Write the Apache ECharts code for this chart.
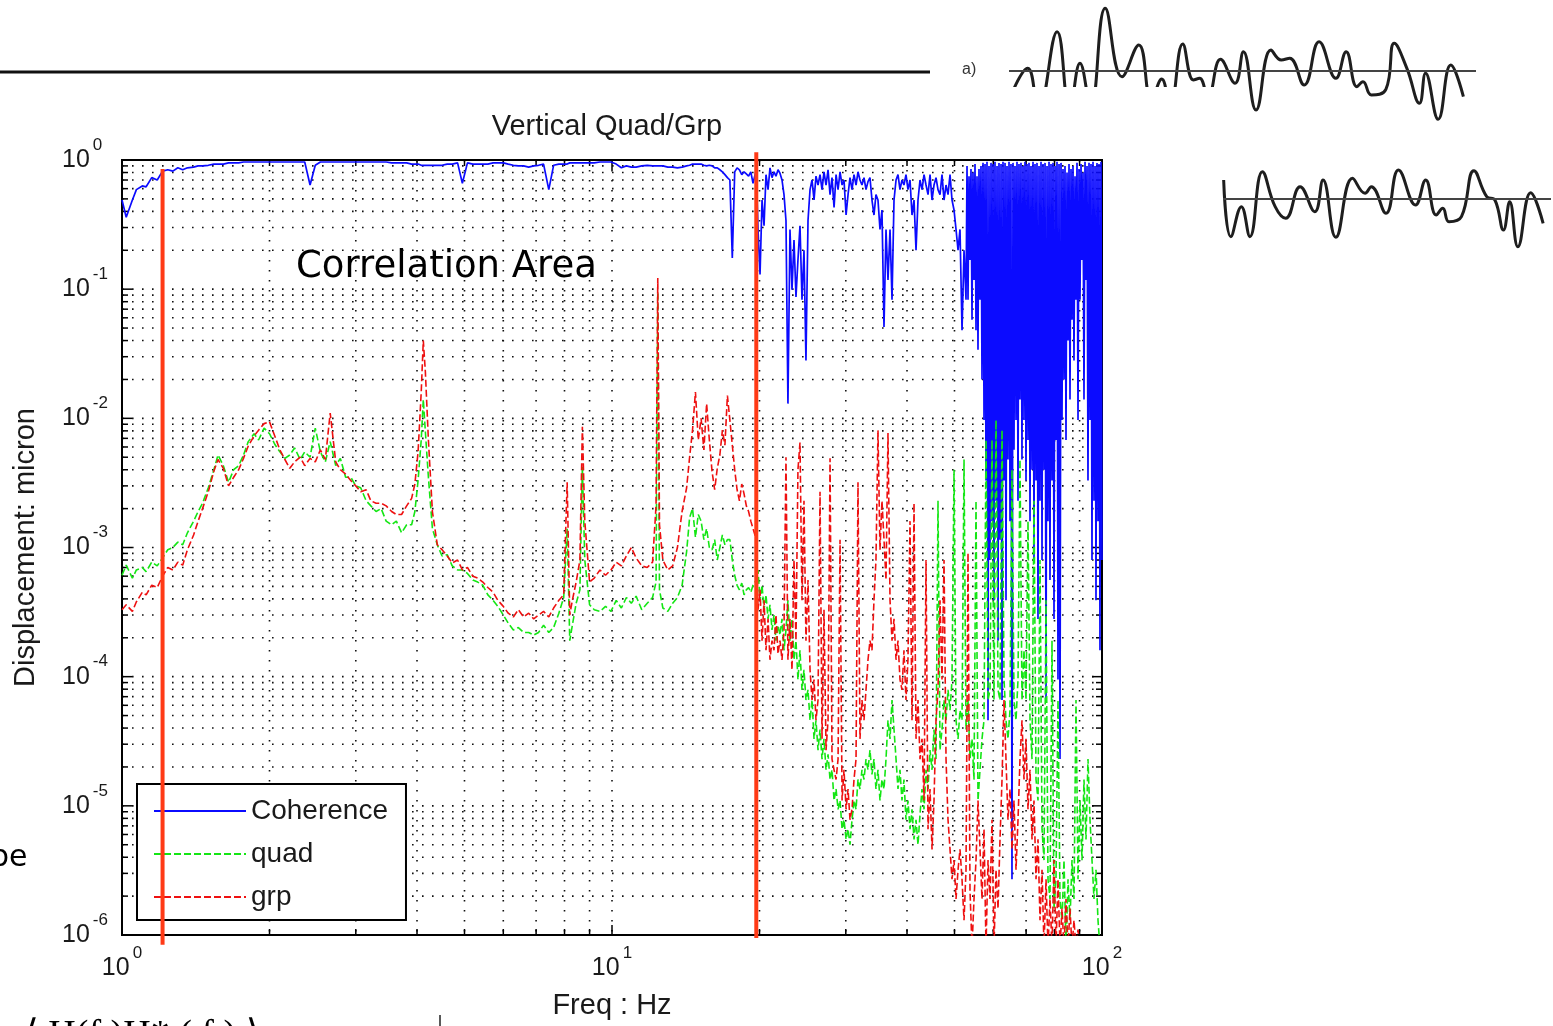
<!DOCTYPE html>
<html>
<head>
<meta charset="utf-8">
<title>Vertical Quad/Grp</title>
<script src="https://cdn.jsdelivr.net/npm/echarts@6/dist/echarts.min.js"></script>
<style>
  html, body { margin: 0; padding: 0; background: #ffffff; }
  #chart { width: 1553px; height: 1026px; }
</style>
</head>
<body>
<div id="chart"></div>
<script>
// ---- Spectrum data: frequency in Hz, displacement in micron, coherence (0..1) ----

// Band below 20 Hz
const freqLow = [
  1.00,1.02,1.05,1.07,1.10,1.12,1.15,1.18,1.21,1.24,
  1.27,1.30,1.33,1.36,1.40,1.43,1.46,1.50,1.54,1.57,
  1.61,1.65,1.69,1.73,1.77,1.81,1.86,1.90,1.95,2.00,
  2.05,2.10,2.15,2.20,2.25,2.31,2.36,2.42,2.48,2.54,
  2.60,2.66,2.73,2.79,2.86,2.93,3.00,3.07,3.15,3.22,
  3.30,3.38,3.46,3.55,3.63,3.72,3.81,3.90,3.96,4.02,
  4.08,4.12,4.16,4.22,4.30,4.40,4.50,4.61,4.72,4.84,
  4.95,5.07,5.20,5.32,5.45,5.58,5.72,5.85,6.00,6.14,
  6.29,6.44,6.60,6.76,6.92,7.08,7.25,7.43,7.60,7.79,
  7.97,8.10,8.20,8.30,8.45,8.60,8.70,8.80,9.00,9.20,
  9.45,9.70,9.95,10.2,10.45,10.7,10.95,11.2,11.5,11.8,
  12.1,12.3,12.4,12.5,12.7,13.0,13.3,13.6,13.9,14.2,
  14.4,14.6,14.8,15.0,15.2,15.4,15.6,15.8,16.0,16.2,
  16.4,16.6,16.8,17.0,17.2,17.4,17.6,17.8,18.0,18.2,
  18.4,18.6,18.8,19.0,19.2,19.4,19.7
];
const cohLow = [
  0.49,0.36,0.49,0.59,0.63,0.62,0.73,0.70,0.82,0.84,
  0.82,0.87,0.84,0.87,0.88,0.90,0.90,0.91,0.93,0.93,
  0.93,0.95,0.95,0.95,0.965,0.965,0.965,0.965,0.965,0.965,
  0.965,0.965,0.965,0.965,0.965,0.965,0.965,0.64,0.91,0.965,
  0.965,0.965,0.965,0.965,0.965,0.965,0.965,0.965,0.965,0.965,
  0.965,0.965,0.965,0.95,0.95,0.95,0.95,0.93,0.93,0.93,
  0.91,0.91,0.91,0.91,0.91,0.91,0.91,0.93,0.93,0.95,
  0.66,0.95,0.93,0.93,0.93,0.93,0.95,0.95,0.95,0.93,
  0.91,0.90,0.90,0.88,0.90,0.91,0.93,0.59,0.91,0.93,
  0.93,0.93,0.95,0.95,0.95,0.95,0.95,0.95,0.95,0.95,
  0.965,0.965,0.965,0.93,0.87,0.90,0.88,0.88,0.90,0.91,
  0.90,0.90,0.90,0.90,0.90,0.88,0.88,0.87,0.88,0.90,
  0.91,0.93,0.93,0.93,0.93,0.91,0.90,0.91,0.90,0.87,
  0.87,0.84,0.81,0.77,0.73,0.70,0.174,0.81,0.87,0.84,
  0.77,0.81,0.78,0.75,0.81,0.66,0.84
];
const quadLow = [
  6.1e-4,7.3e-4,5.8e-4,6.7e-4,7.0e-4,6.5e-4,7.7e-4,7.2e-4,8.3e-4,9.6e-4,
  1.0e-3,1.1e-3,1.05e-3,1.3e-3,1.6e-3,1.9e-3,2.2e-3,2.9e-3,4.0e-3,5.2e-3,
  4.3e-3,3.2e-3,4.0e-3,4.3e-3,5.2e-3,6.6e-3,7.6e-3,6.8e-3,8.4e-3,7.6e-3,
  6.3e-3,5.5e-3,4.9e-3,5.2e-3,5.9e-3,4.8e-3,5.5e-3,5.0e-3,8.4e-3,5.5e-3,
  4.6e-3,6.6e-3,4.3e-3,4.9e-3,3.5e-3,3.5e-3,3.0e-3,2.9e-3,2.3e-3,2.1e-3,
  1.9e-3,2.0e-3,1.6e-3,1.5e-3,1.6e-3,1.3e-3,1.5e-3,1.5e-3,1.9e-3,3.3e-3,
  6.8e-3,1.4e-2,7.9e-3,3.5e-3,1.4e-3,1.05e-3,8.6e-4,8.8e-4,7.2e-4,6.7e-4,
  6.7e-4,6.3e-4,5.6e-4,5.4e-4,5.1e-4,4.3e-4,3.9e-4,3.5e-4,3.0e-4,2.6e-4,
  2.3e-4,2.4e-4,2.2e-4,2.2e-4,2.1e-4,2.2e-4,2.5e-4,2.2e-4,2.4e-4,3.1e-4,
  4.1e-4,1.4e-3,1.9e-4,2.5e-4,3.7e-4,4.7e-4,4.2e-3,8.0e-4,3.6e-4,3.3e-4,
  3.2e-4,3.5e-4,3.2e-4,3.9e-4,3.4e-4,4.1e-4,3.7e-4,4.2e-4,3.3e-4,3.7e-4,
  4.1e-4,5.4e-4,9.5e-2,4.7e-4,3.4e-4,3.2e-4,3.7e-4,4.1e-4,5.1e-4,9.3e-4,
  1.7e-3,2.0e-3,1.2e-3,1.8e-3,1.6e-3,1.15e-3,1.4e-3,1.0e-3,9.6e-4,1.15e-3,
  8.0e-4,1.0e-3,1.25e-3,1.05e-3,1.15e-3,1.15e-3,8.0e-4,6.1e-4,5.1e-4,4.7e-4,
  5.3e-4,4.3e-4,4.7e-4,4.9e-4,4.5e-4,5.1e-4,5.6e-4
];
const grpLow = [
  3.3e-4,3.6e-4,3.2e-4,3.8e-4,4.5e-4,4.3e-4,5.1e-4,4.9e-4,6.0e-4,7.0e-4,
  6.7e-4,7.7e-4,7.3e-4,9.6e-4,1.25e-3,1.6e-3,2.0e-3,2.7e-3,3.9e-3,4.8e-3,
  4.1e-3,3.0e-3,3.5e-3,4.0e-3,4.9e-3,6.1e-3,7.3e-3,8.1e-3,9.1e-3,9.4e-3,
  7.3e-3,5.7e-3,4.8e-3,4.1e-3,4.6e-3,5.0e-3,4.3e-3,4.9e-3,4.6e-3,5.7e-3,
  4.8e-3,1.1e-2,4.6e-3,4.0e-3,3.7e-3,3.3e-3,3.0e-3,2.7e-3,2.8e-3,2.3e-3,
  2.2e-3,2.2e-3,2.1e-3,1.9e-3,1.8e-3,1.8e-3,2.1e-3,2.4e-3,3.1e-3,5.5e-3,
  1.6e-2,4.0e-2,2.3e-2,6.8e-3,1.9e-3,1.05e-3,9.6e-4,8.6e-4,7.6e-4,8.0e-4,
  6.7e-4,7.0e-4,6.0e-4,5.8e-4,5.4e-4,4.9e-4,4.5e-4,3.9e-4,3.5e-4,3.1e-4,
  2.9e-4,3.3e-4,2.9e-4,3.1e-4,2.8e-4,3.0e-4,3.2e-4,2.9e-4,3.4e-4,3.9e-4,
  4.3e-4,3.2e-3,3.0e-4,3.9e-4,5.4e-4,8.0e-4,8.6e-3,1.6e-3,5.4e-4,5.8e-4,
  6.7e-4,6.1e-4,6.7e-4,7.7e-4,7.2e-4,8.6e-4,1.0e-3,8.3e-4,7.2e-4,7.0e-4,
  7.7e-4,2.1e-3,1.22e-1,1.5e-3,8.0e-4,6.7e-4,7.2e-4,1.0e-3,1.9e-3,2.9e-3,
  5.0e-3,8.1e-3,1.6e-2,6.8e-3,1.0e-2,5.7e-3,1.3e-2,6.8e-3,3.9e-3,2.8e-3,
  4.1e-3,5.2e-3,8.1e-3,6.2e-3,1.5e-2,9.7e-3,6.2e-3,4.0e-3,2.8e-3,2.3e-3,
  3.1e-3,2.6e-3,2.1e-3,1.9e-3,1.6e-3,1.4e-3,1.15e-3
];

// Band from 20 Hz to 100 Hz (shared by quad and grp)
const freqHigh = [
  19.86,20.05,20.24,20.43,20.62,20.82,21.01,21.21,21.41,21.61,
  21.82,22.02,22.23,22.44,22.65,22.86,23.08,23.30,23.52,23.74,
  23.96,24.19,24.42,24.65,24.88,25.12,25.36,25.60,25.84,26.08,
  26.33,26.58,26.83,27.08,27.34,27.60,27.86,28.12,28.39,28.66,
  28.93,29.20,29.48,29.75,30.04,30.32,30.60,30.89,31.18,31.48,
  31.77,32.07,32.37,32.68,32.99,33.30,33.61,33.93,34.25,34.57,
  34.90,35.23,35.56,35.90,36.24,36.58,36.93,37.28,37.63,37.99,
  38.34,38.70,39.07,39.43,39.81,40.18,40.57,40.95,41.34,41.73,
  42.12,42.52,42.92,43.33,43.74,44.15,44.57,44.99,45.41,45.84,
  46.27,46.71,47.15,47.60,48.05,48.50,48.96,49.42,49.89,50.36,
  50.84,51.31,51.80,52.29,52.78,53.28,53.78,54.29,54.80,55.32,
  55.84,56.37,56.90,57.44,57.98,58.53,59.08,59.64,60.20,60.77,
  61.35,61.92,62.51,63.10,63.69,64.29,64.90,65.51,66.13,66.76,
  67.39,68.02,68.66,69.31,69.97,70.63,71.30,71.97,72.65,73.34,
  74.03,74.73,75.44,76.15,76.87,77.59,78.32,79.06,79.81,80.56,
  81.32,82.09,82.87,83.65,84.44,85.24,86.04,86.85,87.67,88.50,
  89.34,90.18,91.03,91.89,92.76,93.63,94.52,95.41,96.31,97.22,
  98.14,99.06,100
];
const quadHigh = [
  6.7e-4,3.9e-4,5.1e-4,3.3e-4,4.3e-4,2.8e-4,3.6e-4,2.3e-4,3.0e-4,1.9e-4,
  2.5e-4,2.1e-4,2.8e-4,1.6e-4,2.3e-4,3.9e-4,1.9e-4,2.8e-4,1.35e-4,1.9e-4,
  9.5e-5,1.6e-4,7.9e-5,1.13e-4,6.6e-5,7.9e-5,4.6e-5,6.6e-5,3.3e-5,4.6e-5,
  2.7e-5,3.9e-5,2.3e-5,3.3e-5,1.9e-5,2.5e-5,1.6e-5,1.9e-5,1.1e-5,1.35e-5,
  9.4e-6,1.1e-5,6.6e-6,7.8e-6,5.5e-6,6.6e-6,5.0e-6,7.8e-6,1.1e-5,9.4e-6,
  1.6e-5,1.35e-5,1.9e-5,1.6e-5,2.3e-5,1.9e-5,2.7e-5,1.75e-5,2.3e-5,1.35e-5,
  1.9e-5,1.1e-5,1.6e-5,1.35e-5,2.3e-5,4.6e-5,3.3e-5,6.6e-5,3.9e-5,2.3e-5,
  1.35e-5,1.9e-5,1.1e-5,1.6e-5,7.8e-6,1.1e-5,6.6e-6,9.4e-6,5.5e-6,7.8e-6,
  5.0e-6,8.6e-6,1.35e-5,9.4e-6,1.9e-5,1.35e-5,2.7e-5,1.9e-5,3.9e-5,2.3e-5,
  2.3e-3,2.7e-5,3.9e-5,6.6e-5,4.6e-5,7.9e-5,5.5e-5,9.5e-5,4.0e-3,4.6e-5,
  3.3e-5,5.5e-5,4.6e-5,4.8e-3,3.9e-5,6.6e-5,2.3e-5,3.3e-5,1.6e-5,2.3e-3,
  1.1e-5,1.9e-5,3.3e-5,4.6e-5,6.8e-3,6.6e-5,7.9e-5,6.8e-3,6.6e-5,9.7e-3,
  7.9e-5,6.6e-5,8.1e-3,9.5e-5,4.6e-5,3.3e-5,5.5e-5,4.0e-3,6.6e-5,4.6e-5,
  9.5e-5,4.8e-3,6.6e-5,1.6e-4,6.6e-5,1.6e-3,4.6e-5,2.3e-5,2.3e-3,1.6e-5,
  1.1e-5,8.0e-4,6.6e-6,3.8e-6,3.9e-4,2.7e-6,1.9e-6,1.9e-4,1.6e-6,2.7e-6,
  6.6e-5,1.9e-6,1.3e-6,3.8e-6,8e-7,2.7e-6,1.3e-6,3.8e-6,1.9e-6,6.6e-5,
  2.7e-6,1.1e-5,3.8e-6,1.6e-5,5.5e-6,2.3e-5,7.8e-6,3.8e-6,1.9e-6,3.2e-6,
  1.3e-6,8e-7,8e-7
];
const grpHigh = [
  3.3e-4,4.7e-4,1.9e-4,3.9e-4,1.6e-4,2.8e-4,1.35e-4,1.9e-4,1.6e-4,3.0e-4,
  1.5e-4,1.9e-4,1.35e-4,2.3e-4,5.0e-3,1.35e-4,2.8e-4,1.13e-4,8.0e-4,1.9e-4,
  4.0e-3,6.5e-3,3.9e-4,2.3e-3,1.9e-4,5.6e-4,1.13e-4,6.6e-5,9.5e-5,4.6e-5,
  6.6e-5,2.7e-3,3.3e-5,3.3e-4,2.7e-5,4.6e-5,4.9e-3,2.3e-5,1.9e-5,1.6e-5,
  2.3e-5,1.15e-3,1.1e-5,1.9e-5,9.4e-6,1.35e-5,7.8e-6,9.4e-6,1.6e-5,2.3e-5,
  3.2e-3,3.3e-5,6.6e-5,4.6e-5,7.9e-5,1.35e-4,1.9e-4,1.6e-4,3.9e-4,8.0e-4,
  8.1e-3,9.6e-4,2.3e-3,1.15e-3,5.6e-4,7.7e-3,3.9e-4,1.9e-4,2.8e-4,1.35e-4,
  1.9e-4,9.5e-5,7.9e-5,1.6e-4,6.6e-5,1.35e-4,1.6e-3,4.6e-5,2.2e-3,3.3e-5,
  6.6e-5,2.3e-5,3.3e-5,1.1e-5,8.0e-4,6.6e-6,1.35e-5,4.6e-6,1.1e-5,4.6e-5,
  7.9e-5,3.9e-4,9.5e-5,8.0e-4,2.3e-5,7.8e-6,4.6e-6,2.7e-6,3.8e-6,1.9e-6,
  3.2e-6,4.6e-6,2.7e-6,1.3e-6,3.2e-6,9.1e-4,2.2e-6,8e-7,1.9e-6,3.8e-6,
  1.1e-5,4.6e-6,1.9e-6,6.6e-6,8e-7,3.8e-6,1.9e-6,7.8e-6,8e-7,3.2e-6,
  1.6e-6,5.5e-6,1.6e-5,6.6e-5,2.3e-5,7.8e-6,1.35e-5,4.6e-6,1.1e-5,3.2e-6,
  7.8e-6,2.3e-5,4.6e-5,1.6e-5,3.3e-5,9.4e-6,1.9e-5,5.5e-6,1.1e-5,2.7e-6,
  5.5e-6,1.3e-6,3.2e-6,8e-7,2.7e-6,8e-7,1.9e-6,8e-7,3.8e-6,8e-7,
  2.7e-6,8e-7,1.6e-6,8e-7,1.9e-6,8e-7,1.6e-6,8e-7,1.3e-6,8e-7,
  1.1e-6,8e-7,8e-7,8e-7,8e-7,8e-7,8e-7,8e-7,8e-7,8e-7,
  8e-7,8e-7,8e-7
];

// Coherence from 20 Hz to 53 Hz (same frequencies as the first 105 entries of freqHigh)
const cohHigh = [
  0.29,0.13,0.49,0.31,0.77,0.59,0.87,0.73,0.81,0.75,
  0.84,0.79,0.70,0.54,0.34,0.013,0.29,0.099,0.24,0.087,
  0.168,0.31,0.083,0.20,0.028,0.34,0.59,0.70,0.49,0.75,
  0.64,0.77,0.59,0.81,0.64,0.84,0.54,0.73,0.43,0.77,
  0.59,0.81,0.64,0.70,0.375,0.54,0.73,0.59,0.77,0.64,
  0.81,0.70,0.64,0.73,0.59,0.68,0.73,0.49,0.375,0.54,
  0.49,0.29,0.41,0.051,0.29,0.118,0.29,0.083,0.49,0.70,
  0.77,0.59,0.70,0.64,0.77,0.59,0.70,0.375,0.49,0.20,
  0.49,0.70,0.59,0.77,0.64,0.54,0.77,0.49,0.64,0.73,
  0.59,0.54,0.77,0.49,0.64,0.54,0.77,0.49,0.41,0.29,
  0.20,0.29,0.048,0.20,0.083
];
// Coherence above 53 Hz, finely resolved where it breaks down
const cohFreqDense = [
  53.03,53.28,53.53,53.78,54.03,54.29,54.54,54.80,55.06,55.32,
  55.58,55.84,56.10,56.37,56.63,56.90,57.17,57.44,57.71,57.98,
  58.25,58.53,58.80,59.08,59.36,59.64,59.92,60.20,60.48,60.77,
  61.06,61.35,61.63,61.92,62.22,62.51,62.80,63.10,63.40,63.69,
  63.99,64.29,64.60,64.90,65.20,65.51,65.82,66.13,66.44,66.76,
  67.07,67.39,67.70,68.02,68.34,68.66,68.99,69.31,69.64,69.97,
  70.30,70.63,70.96,71.30,71.63,71.97,72.31,72.65,72.99,73.34,
  73.68,74.03,74.38,74.73,75.08,75.44,75.79,76.15,76.51,76.87,
  77.23,77.59,77.96,78.32,78.69,79.06,79.44,79.81,80.19,80.56,
  80.94,81.32,81.71,82.09,82.48,82.87,83.26,83.65,84.04,84.44,
  84.84,85.24,85.64,86.04,86.45,86.85,87.26,87.67,88.09,88.50,
  88.92,89.34,89.76,90.18,90.61,91.03,91.46,91.89,92.33,92.76,
  93.20,93.63,94.08,94.52,94.96,95.41,95.86,96.31,96.77,97.22,
  97.68,98.14,98.60,99.06,99.53,100
];
const cohDense = [
  0.90,0.083,0.75,0.168,0.85,0.058,0.80,0.118,0.93,0.048,
  0.75,0.034,0.85,0.083,0.90,0.020,0.95,0.0097,0.93,0.0033,
  0.97,4.6e-5,0.90,8.0e-4,0.95,1.6e-3,0.93,3.9e-4,0.97,2.3e-3,
  0.90,1.9e-4,0.95,1.15e-3,0.93,6.6e-5,0.97,3.3e-3,0.95,3.9e-4,
  0.90,4.8e-3,0.97,1.6e-3,0.93,2.7e-6,0.95,5.7e-3,0.90,9.7e-3,
  0.97,2.3e-3,0.93,0.014,0.95,4.8e-3,0.90,9.7e-3,0.97,3.3e-3,
  0.93,6.8e-3,0.95,1.6e-3,0.90,4.0e-3,0.97,8.0e-4,0.93,3.3e-3,
  0.95,2.8e-4,0.90,2.3e-3,0.97,8.0e-4,0.93,4.0e-3,0.95,6.6e-5,
  0.90,1.6e-3,0.97,5.6e-4,0.93,3.3e-3,0.95,2.8e-4,0.90,6.8e-3,
  0.97,9.5e-5,0.93,2.3e-5,0.95,9.7e-3,0.85,0.020,0.90,6.8e-3,
  0.80,0.040,0.93,0.014,0.85,0.058,0.90,0.028,0.75,0.083,
  0.95,9.7e-3,0.85,0.083,0.93,0.168,0.80,0.014,0.97,0.118,
  0.90,3.3e-3,0.95,9.7e-3,0.93,8.0e-4,0.97,2.3e-3,0.90,3.9e-4,
  0.95,1.6e-3,0.93,1.6e-4,0.97,8.0e-4
];

// Correlation band edges (Hz) and the vertical extent of each marker line
const bandEdgesHz = [1.21, 19.7];
const bandLowSpan = [0.85, 8.4e-7];
const bandHighSpan = [1.15, 9.5e-7];

// Axis guide values (decades and their 2..9 subdivisions)
const xGuides = [1, 2, 3, 4, 5, 6, 7, 8, 9, 10, 20, 30, 40, 50, 60, 70, 80, 90, 100];
const yDecades = [-6, -5, -4, -3, -2, -1];
const yMantissas = [1, 2, 3, 4, 5, 6, 7, 8, 9];

// Sketch traces (time 0..100, amplitude in arbitrary units)
const waveATime = [0,4.0,6.3,10.3,13.0,15.2,17.5,20.6,24.2,27.8,30.5,32.7,34.5,37.2,39.5,40.8,42.6,45.3,48.4,50.2,52.9,56.1,58.3,60.1,63.2,66.4,70.0,72.2,74.5,75.8,77.6,80.7,82.5,85.2,87.9,89.2,91.9,94.6,97.3];
const waveAAmp  = [-2.9,0.27,-3.9,3.93,-3.9,0.77,-3.6,6.27,-0.57,2.6,-2.9,-0.8,-3.6,2.7,-0.9,-0.73,-2.6,1.17,-1.23,1.93,-3.9,2.1,1.1,1.27,-1.4,2.93,-0.73,1.93,-1.57,-1.07,-2.4,-1.83,2.77,0.27,-3.23,-0.23,-4.83,0.6,-2.57];
const waveBTime = [0.2,2.4,5.6,8.2,12.0,15.9,19.1,23.5,28.0,30.5,34.4,39.5,43.3,45.2,49.7,53.5,58.7,61.8,65.0,67.0,68.9,72.7,76.5,80.4,82.9,85.5,87.4,89.9,93.8,97.6];
const waveBAmp  = [1.9,-3.77,-0.77,-3.77,2.73,-0.77,-1.93,1.23,-1.27,1.9,-3.83,2.07,0.57,1.23,-1.43,2.9,-0.6,1.9,-1.6,-0.93,-2.27,-1.77,2.83,0.23,-0.1,-3.1,-0.27,-4.77,0.63,-2.43];

// ---- Build chart ----
const SANS = '"Liberation Sans", Arial, Helvetica, sans-serif';
const freqHz = freqLow.concat(freqHigh);
const quad = quadLow.concat(quadHigh);
const grp = grpLow.concat(grpHigh);
const cohFreq = freqLow.concat(freqHigh.slice(0, cohHigh.length), cohFreqDense);
const coherence = cohLow.concat(cohHigh, cohDense);

const pairs = (xs, ys) => xs.map((x, i) => [x, ys[i]]);
const yGuides = [];
yDecades.forEach(d => yMantissas.forEach(m => yGuides.push(m * Math.pow(10, d))));
yGuides.push(1);

const isDecade = v => Math.abs(Math.log10(v) - Math.round(Math.log10(v))) < 1e-9;
const powerLabel = v => '{b|10}{s|' + Math.round(Math.log10(v)) + '}';
const labelRich = {
  b: { fontSize: 25, fontFamily: SANS, color: '#1a1a1a', lineHeight: 36, verticalAlign: 'bottom' },
  s: { fontSize: 17, fontFamily: SANS, color: '#1a1a1a', verticalAlign: 'top', padding: [0, 0, 0, 3] }
};
const dotStyle = { stroke: '#111', lineWidth: 1.6, lineDash: [1.6, 8.4] };
const tickStyle = { stroke: '#000', lineWidth: 1.5 };

function xGuideItem(params, api) {
  const v = api.value(0);
  const x = api.coord([v, 1])[0];
  const cs = params.coordSys;
  const top = cs.y, bot = cs.y + cs.height;
  const len = isDecade(v) ? 10 : 6;
  const children = [];
  if (v > 1 && v < 100) {
    children.push({ type: 'line', shape: { x1: x, y1: top, x2: x, y2: bot }, style: dotStyle });
  }
  children.push({ type: 'line', shape: { x1: x, y1: bot, x2: x, y2: bot - len }, style: tickStyle });
  children.push({ type: 'line', shape: { x1: x, y1: top, x2: x, y2: top + len }, style: tickStyle });
  return { type: 'group', children };
}
function yGuideItem(params, api) {
  const v = api.value(1);
  const y = api.coord([1, v])[1];
  const cs = params.coordSys;
  const left = cs.x, right = cs.x + cs.width;
  const len = isDecade(v) ? 10 : 6;
  const children = [];
  if (v > 1e-6 && v < 1) {
    children.push({ type: 'line', shape: { x1: left, y1: y, x2: right, y2: y }, style: dotStyle });
  }
  children.push({ type: 'line', shape: { x1: left, y1: y, x2: left + len, y2: y }, style: tickStyle });
  children.push({ type: 'line', shape: { x1: right, y1: y, x2: right - len, y2: y }, style: tickStyle });
  return { type: 'group', children };
}

const chart = echarts.init(document.getElementById('chart'), null, { renderer: 'canvas' });

const hiddenValueAxis = (grid, min, max) => ({
  gridIndex: grid, type: 'value', min, max, show: false,
  splitLine: { show: false }, axisLine: { show: false }, axisTick: { show: false }, axisLabel: { show: false }
});

const option = {
  animation: false,
  backgroundColor: '#ffffff',
  textStyle: { fontFamily: SANS },
  grid: [
    { left: 122, top: 160, width: 980, height: 775, show: true, borderColor: '#000', borderWidth: 2, backgroundColor: '#fff', containLabel: false },
    { left: 1009, top: 0, width: 467, height: 142 },
    { left: 1223, top: 128, width: 328, height: 142 }
  ],
  xAxis: [
    {
      gridIndex: 0, type: 'log', logBase: 10, min: 1, max: 100,
      axisLine: { show: false }, axisTick: { show: false }, splitLine: { show: false },
      axisLabel: { formatter: powerLabel, margin: 10, rich: labelRich, showMinLabel: true, showMaxLabel: true },
      name: 'Freq : Hz', nameLocation: 'middle', nameGap: 56,
      nameTextStyle: { fontSize: 29, fontFamily: SANS, color: '#1a1a1a' }
    },
    hiddenValueAxis(1, 0, 100),
    hiddenValueAxis(2, 0, 100)
  ],
  yAxis: [
    {
      gridIndex: 0, type: 'log', logBase: 10, min: 1e-6, max: 1,
      axisLine: { show: false }, axisTick: { show: false }, splitLine: { show: false },
      axisLabel: { formatter: powerLabel, margin: 60, align: 'left', rich: labelRich, padding: [0, 0, 11, 0], showMinLabel: true, showMaxLabel: true },
      name: 'Displacement: micron', nameLocation: 'middle', nameGap: 82, nameRotate: 90,
      nameTextStyle: { fontSize: 29, fontFamily: SANS, color: '#1a1a1a' }
    },
    hiddenValueAxis(1, -7.1, 7.1),
    hiddenValueAxis(2, -7.1, 7.1)
  ],
  legend: {
    data: ['Coherence', 'quad', 'grp'],
    orient: 'vertical', left: 137, top: 784,
    itemWidth: 92, itemHeight: 16, itemGap: 13,
    padding: [12, 18, 8, 16],
    backgroundColor: '#ffffff', borderColor: '#000', borderWidth: 2, borderRadius: 0,
    selectedMode: false,
    itemStyle: { color: 'rgba(0,0,0,0)', borderColor: 'rgba(0,0,0,0)', borderWidth: 0, opacity: 0 },
    textStyle: { fontSize: 28, fontFamily: SANS, color: '#1a1a1a', lineHeight: 30 }
  },
  series: [
    { type: 'custom', name: 'xguides', xAxisIndex: 0, yAxisIndex: 0, silent: true, z: 1,
      renderItem: xGuideItem, data: xGuides.map(v => [v, 1]) },
    { type: 'custom', name: 'yguides', xAxisIndex: 0, yAxisIndex: 0, silent: true, z: 1,
      renderItem: yGuideItem, data: yGuides.map(v => [1, v]) },
    { type: 'line', name: 'Coherence', xAxisIndex: 0, yAxisIndex: 0, z: 3,
      data: pairs(cohFreq, coherence), symbol: 'none',
      lineStyle: { color: '#0b0bff', width: 1.7 }, itemStyle: { color: '#0b0bff' } },
    { type: 'line', name: 'quad', xAxisIndex: 0, yAxisIndex: 0, z: 4,
      data: pairs(freqHz, quad), symbol: 'none',
      lineStyle: { color: '#14e614', width: 1.6, type: [7, 3] }, itemStyle: { color: '#14e614' } },
    { type: 'line', name: 'grp', xAxisIndex: 0, yAxisIndex: 0, z: 5,
      data: pairs(freqHz, grp), symbol: 'none',
      lineStyle: { color: '#ee1010', width: 1.6, type: [7, 3] }, itemStyle: { color: '#ee1010' } },
    { type: 'line', name: 'bandLow', xAxisIndex: 0, yAxisIndex: 0, z: 10, clip: false, silent: true,
      data: bandLowSpan.map(v => [bandEdgesHz[0], v]), symbol: 'none',
      lineStyle: { color: '#ff3a16', width: 4 } },
    { type: 'line', name: 'bandHigh', xAxisIndex: 0, yAxisIndex: 0, z: 10, clip: false, silent: true,
      data: bandHighSpan.map(v => [bandEdgesHz[1], v]), symbol: 'none',
      lineStyle: { color: '#ff3a16', width: 4 } },
    { type: 'line', name: 'traceA', xAxisIndex: 1, yAxisIndex: 1, smooth: 0.45, symbol: 'none', silent: true,
      data: pairs(waveATime, waveAAmp), lineStyle: { color: '#1e1e1e', width: 3 } },
    { type: 'line', name: 'traceAZero', xAxisIndex: 1, yAxisIndex: 1, symbol: 'none', silent: true,
      data: [[0, 0], [100, 0]], lineStyle: { color: '#444', width: 2 } },
    { type: 'line', name: 'traceB', xAxisIndex: 2, yAxisIndex: 2, smooth: 0.45, symbol: 'none', silent: true,
      data: pairs(waveBTime, waveBAmp), lineStyle: { color: '#1e1e1e', width: 3 } },
    { type: 'line', name: 'traceBZero', xAxisIndex: 2, yAxisIndex: 2, symbol: 'none', silent: true,
      data: [[0, 0], [100, 0]], lineStyle: { color: '#444', width: 2 } }
  ],
  graphic: [
    { type: 'line', shape: { x1: 0, y1: 72, x2: 930, y2: 72 }, style: { stroke: '#111', lineWidth: 3 }, silent: true },
    { type: 'rect', shape: { x: 995, y: 87, width: 227, height: 60 }, style: { fill: '#ffffff' }, z: 100, silent: true },
    { type: 'text', x: 962, y: 70, style: { text: 'a)', font: '16px ' + SANS, fill: '#333', textAlign: 'left', textVerticalAlign: 'middle' }, silent: true },
    { type: 'text', x: 607, y: 127, style: { text: 'Vertical Quad/Grp', font: '29px ' + SANS, fill: '#1a1a1a', textAlign: 'center', textVerticalAlign: 'middle' }, silent: true },
    { type: 'text', x: 296, y: 267, z: 20, style: { text: 'Correlation Area', font: '37px "DejaVu Sans", Verdana, sans-serif', fill: '#000', textAlign: 'left', textVerticalAlign: 'middle' }, silent: true },
    { type: 'text', x: -10, y: 858, style: { text: 'pe', font: '30px "DejaVu Sans", Verdana, sans-serif', fill: '#000', textAlign: 'left', textVerticalAlign: 'middle' }, silent: true },
    { type: 'text', x: 24, y: 1036, style: { text: '⟨ H(f )H* ( f ) ⟩', font: '38px "Liberation Serif", "DejaVu Serif", serif', fill: '#000', textAlign: 'left', textVerticalAlign: 'middle' }, silent: true },
    { type: 'line', shape: { x1: 440, y1: 1015, x2: 440, y2: 1026 }, style: { stroke: '#222', lineWidth: 1.5 }, silent: true }
  ]
};

chart.setOption(option);
</script>
</body>
</html>
